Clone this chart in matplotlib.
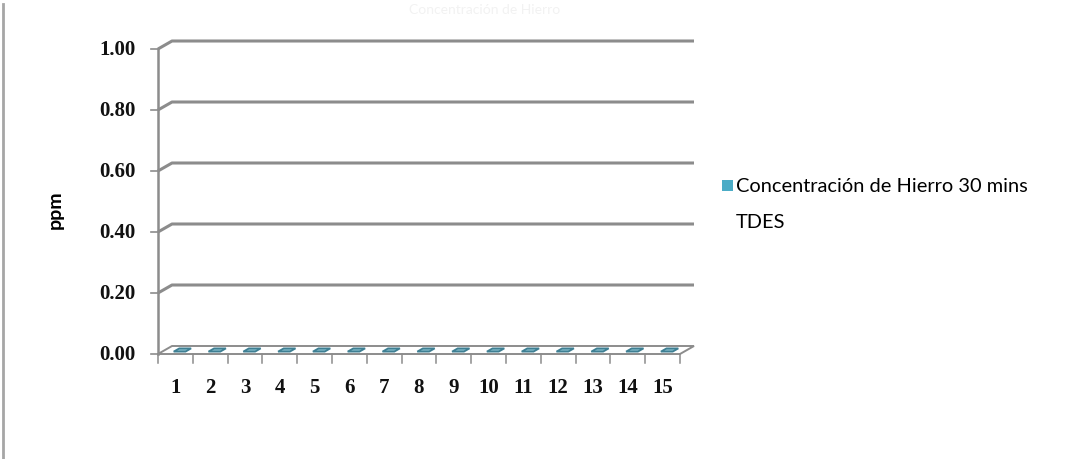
#!/bin/env python3
"""
Excel-style 3D column chart of iron concentration (all samples ~0 ppm).
"""
import matplotlib
matplotlib.use("Agg")
import matplotlib.pyplot as plt
from matplotlib.patches import Polygon, Rectangle

# data
samples = [1, 2, 3, 4, 5, 6, 7, 8, 9, 10, 11, 12, 13, 14, 15]
iron_ppm = [0.0, 0.0, 0.0, 0.0, 0.0, 0.0, 0.0, 0.0, 0.0, 0.0, 0.0, 0.0, 0.0, 0.0, 0.0]
y_ticks = [0.0, 0.2, 0.4, 0.6, 0.8, 1.0]
series_name = "Concentración de Hierro 30 mins\nTDES"
title_text = "Concentración de Hierro"

W, H = 1084, 460
fig = plt.figure(figsize=(W / 100, H / 100), dpi=100)
fig.patch.set_facecolor("white")

# front plane of the 3d box in pixels
left, right, top, bottom = 158, 680, 50, 355
ax = fig.add_axes([left / W, 1 - bottom / H, (right - left) / W, (bottom - top) / H])
ax.set_xlim(0.5, len(samples) + 0.5)
ax.set_ylim(0, 1)
ax.axis("off")

# depth offset in data units
px_x = (right - left) / len(samples)
px_y = (bottom - top) / 1.0
dx = 14 / px_x
dy = 8 / px_y

grid_col = "#8c8c8c"
tick_font = dict(fontsize=15, family="Liberation Serif", fontweight="bold", color="#111111")
x0, x1 = 0.5, len(samples) + 0.5

# back wall gridlines with the diagonal on the side wall
for v in y_ticks[1:]:
    ax.plot([x0, x0 + dx, x1 + dx], [v, v + dy, v + dy], color=grid_col, lw=2.2,
            clip_on=False, solid_capstyle="butt")

# value axis ticks and labels
for v in y_ticks:
    ax.plot([x0 - 7 / px_x, x0], [v, v], color=grid_col, lw=1.2, clip_on=False)
    ax.text(x0 - 22 / px_x, v, f"{v:.2f}", ha="right", va="center", **tick_font)

# front vertical axis
ax.plot([x0, x0], [0, 1], color=grid_col, lw=1.8, clip_on=False)

# floor
floor = Polygon([[x0, 0], [x1, 0], [x1 + dx, dy], [x0 + dx, dy]], closed=True,
                facecolor="white", edgecolor=grid_col, lw=1.4, clip_on=False)
ax.add_patch(floor)

# category ticks and labels
for i in range(len(samples) + 1):
    xb = x0 + i
    ax.plot([xb, xb], [0, -9 / px_y], color=grid_col, lw=1.1, clip_on=False)
for s in samples:
    ax.text(s, -33 / px_y, str(s), ha="center", va="center", **tick_font)

# columns (flat tops, values ~ 0)
bw = 0.34
for s, v in zip(samples, iron_ppm):
    d0, d1 = 0.3, 0.7
    pts = [[s - bw / 2 + dx * d0, v + dy * d0], [s + bw / 2 + dx * d0, v + dy * d0],
           [s + bw / 2 + dx * d1, v + dy * d1], [s - bw / 2 + dx * d1, v + dy * d1]]
    ax.add_patch(Polygon(pts, closed=True, facecolor="#7fb8c8", edgecolor="#3e7f93",
                         lw=1.3, clip_on=False))

# y label
fig.text(55 / W, 1 - 210 / H, "ppm", rotation=90, ha="center", va="center",
         fontsize=14, fontweight="bold", family="Lato")

# legend
fig.patches.append(Rectangle((722 / W, 1 - 192 / H), 11 / W, 11 / H,
                             transform=fig.transFigure, facecolor="#4bacc6",
                             edgecolor="none"))
for k, line in enumerate(series_name.split("\n")):
    fig.text(736 / W, 1 - (187 + 36 * k) / H, line, ha="left", va="center",
             fontsize=14.4, family="Lato")

# faint title
fig.text(485 / W, 1 - 10 / H, title_text, ha="center", va="center",
         fontsize=10, color="#f2f2f2", family="Lato")

# chart area border on the left
fig.lines.append(plt.Line2D([2.5 / W, 2.5 / W], [0, 1 - 5 / H], transform=fig.transFigure,
                            color="#a6a6a6", lw=2))

fig.savefig("out.png", dpi=100, facecolor="white")
